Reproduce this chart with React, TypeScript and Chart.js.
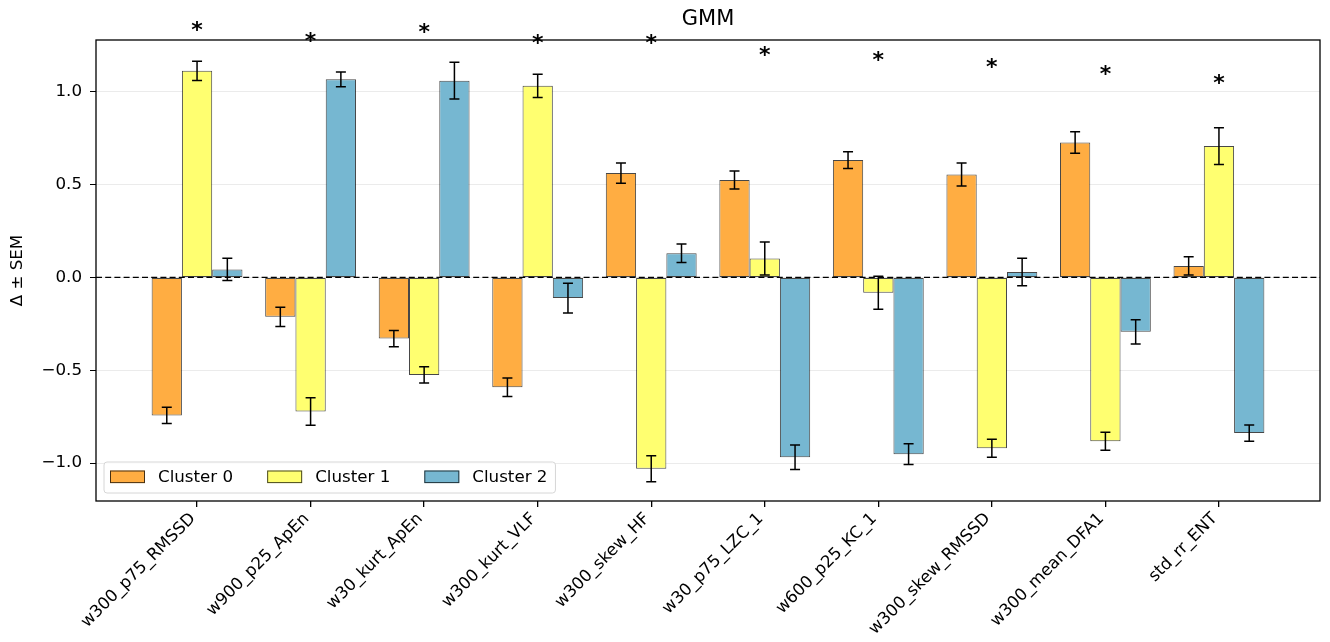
import { useEffect, useRef } from 'react';
import { Chart, registerables } from 'chart.js';

Chart.register(...registerables);

const FONT = "'DejaVu Sans', sans-serif";

// Features on the x axis
const categories = [
  'w300_p75_RMSSD',
  'w900_p25_ApEn',
  'w30_kurt_ApEn',
  'w300_kurt_VLF',
  'w300_skew_HF',
  'w30_p75_LZC_1',
  'w600_p25_KC_1',
  'w300_skew_RMSSD',
  'w300_mean_DFA1',
  'std_rr_ENT',
];

// Mean difference (Δ) per cluster and its SEM
const cluster0Mean = [-0.743, -0.212, -0.329, -0.591, 0.562, 0.525, 0.632, 0.555, 0.727, 0.062];
const cluster0Sem = [0.044, 0.052, 0.044, 0.05, 0.055, 0.049, 0.045, 0.062, 0.058, 0.049];
const cluster1Mean = [1.113, -0.722, -0.525, 1.032, -1.03, 0.102, -0.082, -0.92, -0.882, 0.708];
const cluster1Sem = [0.052, 0.074, 0.044, 0.063, 0.07, 0.089, 0.089, 0.048, 0.048, 0.099];
const cluster2Mean = [0.043, 1.067, 1.06, -0.111, 0.13, -0.968, -0.952, 0.03, -0.293, -0.838];
const cluster2Sem = [0.06, 0.04, 0.099, 0.08, 0.05, 0.066, 0.056, 0.074, 0.065, 0.044];

// Significance marker per feature
const significant = [true, true, true, true, true, true, true, true, true, true];

const clusterLabels = ['Cluster 0', 'Cluster 1', 'Cluster 2'];
const clusterColors = ['#FFAD42', '#FFFF70', '#76B7D1'];
const EDGE = 'rgba(0,0,0,0.72)';

const yTickValues = [-1.0, -0.5, 0.0, 0.5, 1.0];

const means = [cluster0Mean, cluster1Mean, cluster2Mean];
const sems = [cluster0Sem, cluster1Sem, cluster2Sem];

const fmtTick = (v: number) => v.toFixed(1).replace('-', '\u2212');

const TEXT_SIZE = 16.7;

const overlay = {
  id: 'overlay',
  afterDatasetsDraw(chart: any) {
    const { ctx, chartArea, scales } = chart;
    const y = scales.y;
    ctx.save();

    // zero reference line
    ctx.beginPath();
    ctx.setLineDash([6, 3.2]);
    ctx.strokeStyle = '#000';
    ctx.lineWidth = 1.3;
    const y0 = y.getPixelForValue(0);
    ctx.moveTo(chartArea.left, y0);
    ctx.lineTo(chartArea.right, y0);
    ctx.stroke();
    ctx.setLineDash([]);

    // error bars
    ctx.strokeStyle = '#000';
    ctx.lineWidth = 1.5;
    means.forEach((m, d) => {
      const meta = chart.getDatasetMeta(d);
      m.forEach((v, i) => {
        const bar = meta.data[i];
        const x = bar.x;
        const top = y.getPixelForValue(v + sems[d][i]);
        const bot = y.getPixelForValue(v - sems[d][i]);
        ctx.beginPath();
        ctx.moveTo(x, top);
        ctx.lineTo(x, bot);
        ctx.moveTo(x - 5, top);
        ctx.lineTo(x + 5, top);
        ctx.moveTo(x - 5, bot);
        ctx.lineTo(x + 5, bot);
        ctx.stroke();
      });
    });
    ctx.restore();
  },
  afterDraw(chart: any) {
    const { ctx, chartArea, scales } = chart;
    const x = scales.x;
    const y = scales.y;
    ctx.save();

    // frame
    ctx.strokeStyle = '#000';
    ctx.lineWidth = 1.3;
    ctx.strokeRect(chartArea.left, chartArea.top, chartArea.right - chartArea.left, chartArea.bottom - chartArea.top);

    // title
    ctx.fillStyle = '#000';
    ctx.font = `21px ${FONT}`;
    ctx.textAlign = 'center';
    ctx.textBaseline = 'middle';
    ctx.fillText('GMM', (chartArea.left + chartArea.right) / 2, 20);

    // y axis label
    ctx.save();
    ctx.translate(18, (chartArea.top + chartArea.bottom) / 2);
    ctx.rotate(-Math.PI / 2);
    ctx.font = `${TEXT_SIZE}px ${FONT}`;
    ctx.fillText('\u0394 \u00b1 SEM', 0, 0);
    ctx.restore();

    // significance asterisks above the largest |Δ|+SEM of each feature
    ctx.font = `bold 22px ${FONT}`;
    ctx.textAlign = 'center';
    ctx.textBaseline = 'middle';
    categories.forEach((_, i) => {
      if (!significant[i]) return;
      const reach = Math.max(...means.map((m, d) => Math.abs(m[i]) + sems[d][i]));
      const py = y.getPixelForValue(reach + 0.18);
      ctx.fillText('*', x.getPixelForValue(i), py + 4);
    });

    // legend
    ctx.font = `${TEXT_SIZE}px ${FONT}`;
    const lx = chartArea.left + 8;
    const ly = chartArea.bottom - 8 - 31;
    const widths = clusterLabels.map((t) => ctx.measureText(t).width);
    const boxW = 35;
    const gap = 13;
    const colSpace = 34;
    let totalW = 6;
    widths.forEach((w, k) => {
      totalW += boxW + gap + w + (k < widths.length - 1 ? colSpace : 0);
    });
    totalW += 8;
    ctx.beginPath();
    ctx.roundRect(lx, ly, totalW, 31, 3);
    ctx.fillStyle = 'rgba(255,255,255,0.85)';
    ctx.fill();
    ctx.strokeStyle = '#d6d6d6';
    ctx.lineWidth = 1;
    ctx.stroke();
    let cx = lx + 6;
    clusterLabels.forEach((t, k) => {
      ctx.fillStyle = clusterColors[k];
      ctx.fillRect(cx, ly + 8.5, boxW, 12.6);
      ctx.strokeStyle = EDGE;
      ctx.lineWidth = 1;
      ctx.strokeRect(cx + 0.5, ly + 9, boxW - 1, 11.6);
      ctx.fillStyle = '#000';
      ctx.textAlign = 'left';
      ctx.textBaseline = 'middle';
      ctx.fillText(t, cx + boxW + gap, ly + 15.5);
      cx += boxW + gap + widths[k] + colSpace;
    });

    ctx.restore();
  },
};

export default function App() {
  const ref = useRef<HTMLCanvasElement>(null);

  useEffect(() => {
    const datasets = means.map((m, d) => ({
      label: clusterLabels[d],
      data: m.map((v, i) => ({ x: i, y: v })),
      backgroundColor: clusterColors[d],
      borderColor: EDGE,
      borderWidth: 1,
      borderSkipped: false,
      categoryPercentage: 0.8,
      barPercentage: 1.0,
    }));

    const chart = new Chart(ref.current as HTMLCanvasElement, {
      type: 'bar',
      data: { datasets },
      options: {
        responsive: false,
        animation: false,
        devicePixelRatio: 1,
        layout: { padding: { top: 40, right: 10, left: 0, bottom: 0 } },
        plugins: {
          legend: { display: false },
          tooltip: { enabled: false },
          title: { display: false },
        },
        scales: {
          x: {
            type: 'linear',
            min: -0.89,
            max: 9.89,
            offset: false,
            afterBuildTicks: (s: any) => {
              s.ticks = categories.map((_, i) => ({ value: i }));
            },
            afterFit: (s: any) => {
              s.height = 141;
            },
            border: { display: false },
            grid: {
              offset: false,
              drawOnChartArea: false,
              drawTicks: true,
              tickLength: 6,
              tickColor: '#000',
              lineWidth: 1.3,
            },
            ticks: {
              autoSkip: false,
              minRotation: 45,
              maxRotation: 45,
              padding: 2,
              labelOffset: -4,
              color: '#000',
              font: { family: FONT, size: TEXT_SIZE },
              callback: (v: any) => categories[v] ?? '',
            },
          },
          y: {
            min: -1.204,
            max: 1.279,
            afterFit: (s: any) => {
              s.width = 96;
            },
            afterBuildTicks: (s: any) => {
              s.ticks = yTickValues.map((v) => ({ value: v }));
            },
            border: { display: false },
            grid: {
              color: '#ebebeb',
              lineWidth: 1,
              tickColor: '#000',
              tickLength: 6,
            },
            ticks: {
              padding: 8,
              color: '#000',
              font: { family: FONT, size: TEXT_SIZE },
              callback: (v: any) => fmtTick(Number(v)),
            },
          },
        },
      },
      plugins: [overlay],
    } as any);

    return () => chart.destroy();
  }, []);

  return (
    <div style={{ position: 'absolute', left: 0, top: 0, width: 1330, height: 642, background: '#fff' }}>
      <canvas ref={ref} width={1330} height={642} style={{ display: 'block' }} />
    </div>
  );
}
